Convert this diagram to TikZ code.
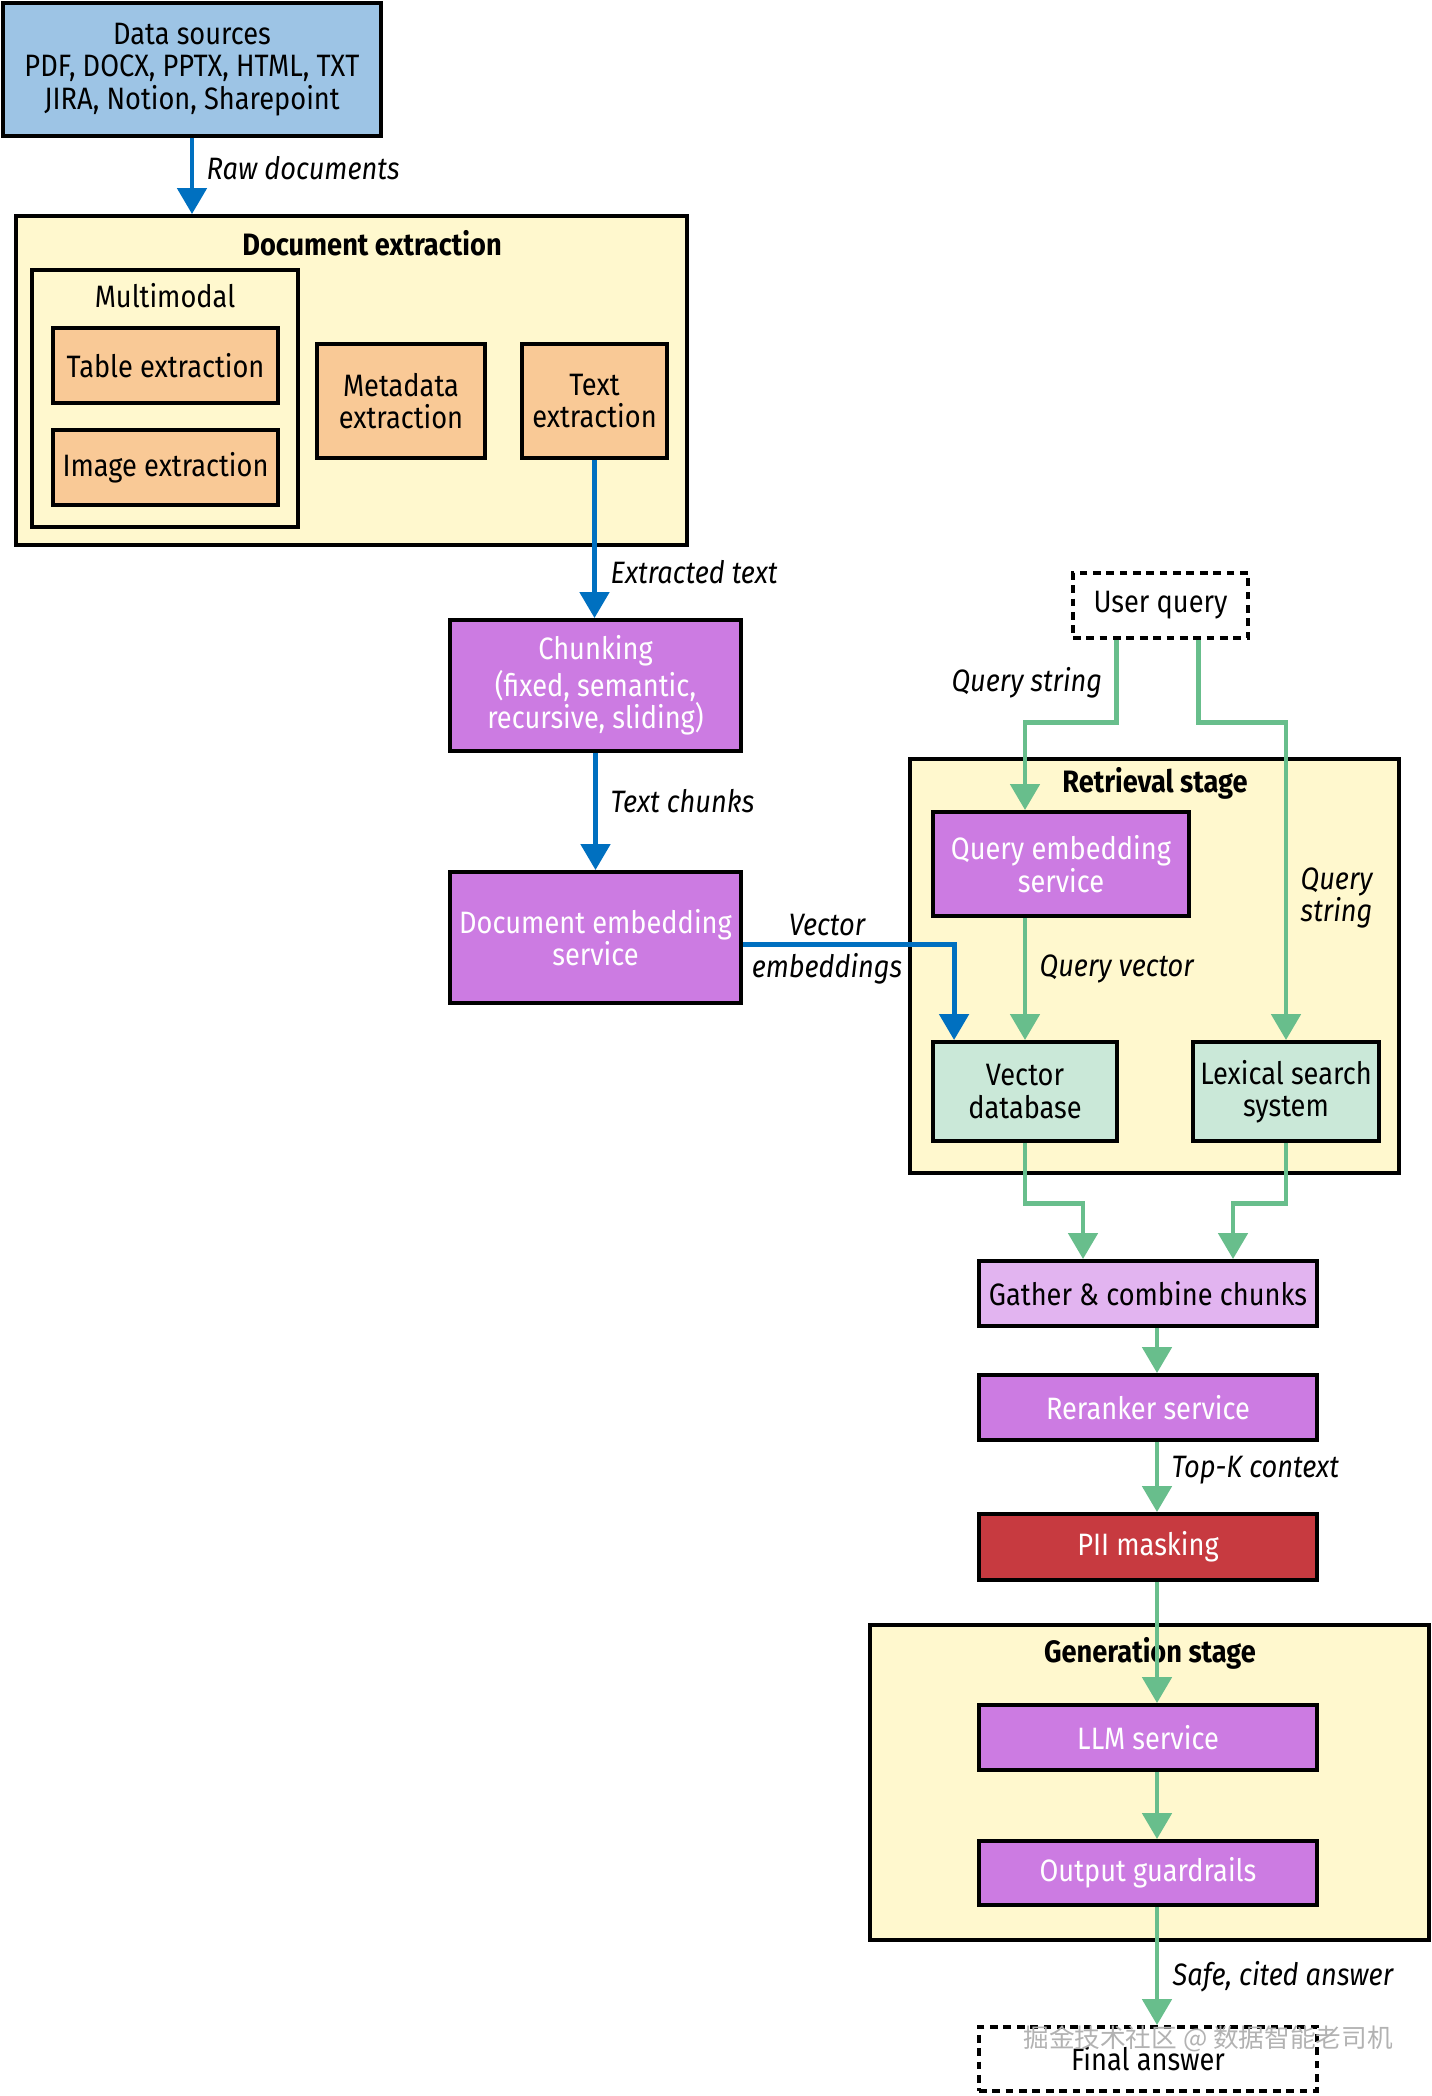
\documentclass[tikz,border=0pt]{standalone}
\usepackage{fontspec}
\setmainfont{Fira Sans}[FakeStretch=0.88]
\newfontfamily\cjk{Noto Sans CJK SC}
\usetikzlibrary{calc, positioning, arrows.meta}

\definecolor{srcblue}{RGB}{157,196,229}
\definecolor{stageyellow}{RGB}{255,248,206}
\definecolor{extorange}{RGB}{249,201,150}
\definecolor{svcpurple}{RGB}{204,123,226}
\definecolor{gatherpurple}{RGB}{226,180,240}
\definecolor{piired}{RGB}{199,58,64}
\definecolor{dbgreen}{RGB}{202,232,216}
\definecolor{flowblue}{RGB}{0,112,192}
\definecolor{flowgreen}{RGB}{104,190,140}

\tikzset{
  basebox/.style={draw=black, line width=1.1pt, align=center, inner sep=1pt,
    font=\fontsize{8.8}{9.2}\selectfont},
  srcbox/.style={basebox, fill=srcblue},
  stagebox/.style={basebox, fill=stageyellow},
  extbox/.style={basebox, fill=extorange},
  svcbox/.style={basebox, fill=svcpurple, text=white},
  dbbox/.style={basebox, fill=dbgreen},
  dashbox/.style={basebox, dash pattern=on 2.2pt off 1.6pt},
  title/.style={font=\fontsize{8.8}{9.2}\selectfont\bfseries, inner sep=0pt},
  lbl/.style={font=\fontsize{8.8}{9.2}\selectfont\itshape, inner sep=0pt, align=left},
  blueflow/.style={draw=flowblue, line width=1.4pt, -{Triangle[width=0.29cm,length=0.26cm]}},
  greenflow/.style={draw=flowgreen, line width=1.4pt, -{Triangle[width=0.29cm,length=0.26cm]}}
}

\begin{document}
\begin{tikzpicture}
    \useasboundingbox (0,0) rectangle (14.31,-20.96);

    % ingestion side
    \node[srcbox, minimum width=3.78cm, minimum height=1.33cm] (src) at (1.92,-0.695)
        {Data sources\\PDF, DOCX, PPTX, HTML, TXT\\JIRA, Notion, Sharepoint};
    \node[stagebox, minimum width=6.71cm, minimum height=3.29cm] (docext) at (3.515,-3.805) {};
    \node[title] (docexttitle) at (3.72,-2.43) {Document extraction};
    \node[stagebox, minimum width=2.66cm, minimum height=2.57cm] (multi) at (1.65,-3.985) {};
    \node[basebox, draw=none, inner sep=0pt] (multititle) at (1.65,-2.96) {Multimodal};
    \node[extbox, minimum width=2.25cm, minimum height=0.75cm] (table) at (1.655,-3.655) {Table extraction};
    \node[extbox, minimum width=2.25cm, minimum height=0.75cm] (image) at (1.655,-4.675) {Image extraction};
    \node[extbox, minimum width=1.68cm, minimum height=1.14cm] (meta) at (4.01,-4.01) {Metadata\\extraction};
    \node[extbox, minimum width=1.45cm, minimum height=1.14cm] (textx) at (5.945,-4.01) {Text\\extraction};
    \node[svcbox, minimum width=2.91cm, minimum height=1.31cm] (chunk) at (5.955,-6.855)
        {Chunking\\(fixed, semantic,\\recursive, sliding)};
    \node[svcbox, minimum width=2.91cm, minimum height=1.31cm] (docemb) at (5.955,-9.375)
        {Document embedding\\service};

    % retrieval side
    \node[dashbox, minimum width=1.75cm, minimum height=0.65cm] (uq) at (11.605,-6.055) {User query};
    \node[stagebox, minimum width=4.89cm, minimum height=4.14cm] (retr) at (11.545,-9.66) {};
    \node[title] (retrtitle) at (11.55,-7.83) {Retrieval stage};
    \node[svcbox, minimum width=2.56cm, minimum height=1.04cm] (qemb) at (10.61,-8.64) {Query embedding\\service};
    \node[dbbox, minimum width=1.84cm, minimum height=0.99cm] (vdb) at (10.25,-10.915) {Vector\\database};
    \node[dbbox, minimum width=1.86cm, minimum height=0.99cm] (lex) at (12.86,-10.915) {Lexical search\\system};

    \node[basebox, fill=gatherpurple, minimum width=3.38cm, minimum height=0.65cm] (gather) at (11.48,-12.935)
        {Gather \& combine chunks};
    \node[svcbox, minimum width=3.38cm, minimum height=0.65cm] (rerank) at (11.48,-14.075) {Reranker service};
    \node[svcbox, fill=piired, minimum width=3.38cm, minimum height=0.66cm] (pii) at (11.48,-15.47) {PII masking};

    % generation side
    \node[stagebox, minimum width=5.59cm, minimum height=3.15cm] (gen) at (11.495,-17.825) {};
    \node[title] (gentitle) at (11.50,-16.53) {Generation stage};
    \node[svcbox, minimum width=3.38cm, minimum height=0.65cm] (llm) at (11.48,-17.375) {LLM service};
    \node[svcbox, minimum width=3.38cm, minimum height=0.64cm] (guard) at (11.48,-18.73) {Output guardrails};
    \node[dashbox, minimum width=3.38cm, minimum height=0.64cm] (final) at (11.48,-20.59) {Final answer};

    % blue flows
    \draw[blueflow] (src.south) -- (src.south |- docext.north);
    \draw[blueflow] (textx.south) -- (textx.south |- chunk.north);
    \draw[blueflow] (chunk.south) -- (docemb.north);
    \draw[blueflow] ($(docemb.east)+(0,-0.07)$) -| ($(vdb.north west)+(0.23,0)$);

    % green flows
    \draw[greenflow] ($(uq.south west)+(0.45,0)$) -- ++(0,-0.83) -| (qemb.north -| vdb.north);
    \draw[greenflow] ($(uq.south west)+(1.27,0)$) -- ++(0,-0.83) -| (lex.north);
    \draw[greenflow] (qemb.south -| vdb.north) -- (vdb.north);
    \draw[greenflow] (vdb.south) -- ++(0,-0.61) -| ($(gather.north)+(-0.65,0)$);
    \draw[greenflow] (lex.south) -- ++(0,-0.61) -| ($(gather.north)+(0.85,0)$);
    \draw[greenflow] ($(gather.south)+(0.09,0)$) -- ($(rerank.north)+(0.09,0)$);
    \draw[greenflow] ($(rerank.south)+(0.09,0)$) -- ($(pii.north)+(0.09,0)$);
    \draw[greenflow] ($(pii.south)+(0.09,0)$) -- ($(llm.north)+(0.09,0)$);
    \draw[greenflow] ($(llm.south)+(0.09,0)$) -- ($(guard.north)+(0.09,0)$);
    \draw[greenflow] ($(guard.south)+(0.09,0)$) -- ($(final.north)+(0.09,0)$);

    % flow labels
    \node[lbl, anchor=west] (rawlbl) at (2.06,-1.68) {Raw documents};
    \node[lbl, anchor=west] (extlbl) at (6.10,-5.72) {Extracted text};
    \node[lbl, anchor=west] (chunklbl) at (6.10,-8.01) {Text chunks};
    \node[lbl] (veclbl) at (8.27,-9.25) {Vector};
    \node[lbl] (emblbl) at (8.27,-9.69) {embeddings};
    \node[lbl, anchor=east] (qslbl) at (11.03,-6.83) {Query string};
    \node[lbl, anchor=west] (qs2lbl) at (13.0,-8.98) {Query\\string};
    \node[lbl, anchor=west] (qvlbl) at (10.39,-9.69) {Query vector};
    \node[lbl, anchor=west] (topklbl) at (11.71,-14.70) {Top-K context};
    \node[lbl, anchor=west] (safelbl) at (11.72,-19.77) {Safe, cited answer};

    % watermark
    \node[text=gray!60, font=\cjk\fontsize{7.3}{8}\selectfont, inner sep=0pt] (mark) at (12.08,-20.39)
        {掘金技术社区 @ 数据智能老司机};
\end{tikzpicture}
\end{document}
